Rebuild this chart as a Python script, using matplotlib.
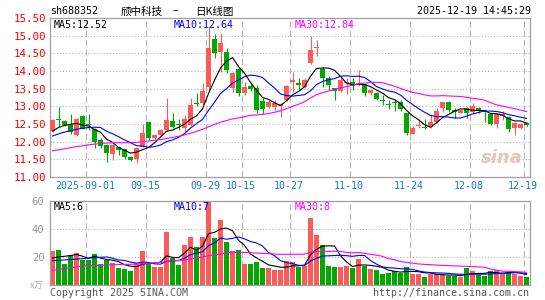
import numpy as np
import matplotlib
matplotlib.use('Agg')
import matplotlib.pyplot as plt
from matplotlib import transforms

# ---------------- data ----------------
opens = [12.30, 12.62, 12.58, 12.50, 12.19, 12.73, 12.50, 12.36, 12.05, 11.91,
         11.65, 11.86, 11.78, 11.58, 11.50, 11.86, 12.55, 12.09, 12.19, 12.33,
         12.58, 12.50, 12.38, 12.47, 13.09, 13.09, 13.56, 14.91, 14.55, 14.53,
         13.51, 14.06, 13.37, 13.58, 13.51, 13.15, 12.99, 12.99, 13.00, 13.18,
         13.70, 13.65, 13.54, 14.24, 14.64, 14.06, 13.81, 13.51, 13.42, 13.66,
         13.70, 13.62, 13.63, 13.39, 13.39, 13.18, 13.06, 13.12, 13.13, 12.80,
         12.23, 12.43, 12.42, 12.42, 12.56, 12.94, 13.13, 12.90, 12.80, 12.95,
         12.83, 12.95, 12.87, 12.77, 12.50, 12.74, 12.71, 12.40, 12.40, 12.54]
highs = [12.65, 12.97, 12.60, 12.78, 12.66, 12.75, 12.78, 12.40, 12.10, 11.93,
         11.93, 11.88, 11.80, 11.60, 11.83, 12.50, 12.57, 12.22, 12.36, 13.25,
         12.80, 12.63, 12.75, 13.23, 13.37, 13.65, 15.25, 15.04, 15.07, 14.64,
         13.98, 14.10, 13.70, 13.66, 13.60, 13.23, 13.17, 13.17, 13.10, 13.60,
         13.98, 13.79, 13.79, 15.00, 14.88, 14.10, 13.86, 13.53, 13.80, 13.80,
         13.80, 14.03, 13.63, 13.48, 13.40, 13.32, 13.18, 13.20, 13.17, 12.82,
         12.43, 12.62, 12.64, 12.75, 12.94, 13.13, 13.16, 12.95, 12.90, 12.98,
         13.09, 12.98, 12.91, 12.80, 12.80, 12.86, 12.72, 12.56, 12.54, 12.56]
lows = [12.28, 12.45, 12.45, 12.22, 12.17, 12.35, 12.33, 11.81, 11.81, 11.43,
        11.48, 11.62, 11.50, 11.46, 11.39, 11.84, 12.05, 12.07, 12.17, 12.30,
        12.40, 12.33, 12.26, 12.45, 13.00, 13.05, 13.41, 14.36, 13.98, 13.93,
        13.41, 13.28, 13.32, 13.42, 12.81, 12.77, 12.94, 12.90, 12.71, 13.15,
        13.41, 13.46, 13.52, 14.20, 14.42, 13.54, 13.45, 13.18, 13.40, 13.35,
        13.45, 13.58, 13.28, 13.33, 13.18, 13.05, 12.92, 12.87, 12.86, 12.19,
        12.21, 12.40, 12.36, 12.38, 12.52, 12.85, 12.83, 12.67, 12.80, 12.67,
        12.81, 12.81, 12.56, 12.47, 12.38, 12.62, 12.26, 12.19, 12.35, 12.45]
closes = [12.60, 12.60, 12.48, 12.27, 12.64, 12.37, 12.46, 11.98, 11.88, 11.67,
          11.91, 11.76, 11.56, 11.48, 11.81, 12.25, 12.09, 12.19, 12.33, 12.61,
          12.42, 12.48, 12.63, 13.04, 13.07, 13.42, 14.66, 14.50, 14.78, 14.03,
          13.93, 13.39, 13.56, 13.49, 12.90, 12.92, 13.11, 13.10, 13.08, 13.58,
          13.75, 13.60, 13.75, 14.59, 14.67, 13.81, 13.60, 13.42, 13.75, 13.70,
          13.58, 13.66, 13.39, 13.46, 13.22, 13.14, 13.03, 13.09, 12.92, 12.25,
          12.38, 12.47, 12.38, 12.56, 12.87, 13.13, 12.90, 12.85, 12.90, 12.80,
          13.00, 12.86, 12.84, 12.50, 12.77, 12.78, 12.35, 12.54, 12.49, 12.47]
volumes = [24.5, 25.2, 15.0, 21.7, 22.9, 17.9, 17.9, 22.4, 15.2, 17.6,
           15.7, 12.4, 11.7, 9.8, 15.7, 24.5, 15.7, 12.6, 13.1, 38.1,
           19.3, 14.5, 28.8, 34.0, 27.4, 34.0, 59.0, 33.6, 46.2, 30.5,
           24.5, 25.2, 15.2, 15.2, 16.7, 12.4, 12.4, 11.0, 11.0, 16.9,
           16.7, 13.1, 13.3, 48.2, 35.8, 28.7, 13.7, 13.1, 13.1, 13.7,
           12.3, 18.7, 13.9, 11.5, 10.7, 8.1, 8.8, 10.0, 8.4, 13.0,
           8.1, 8.1, 5.8, 8.1, 8.1, 6.8, 6.5, 6.1, 6.0, 12.1,
           10.0, 7.1, 6.4, 10.0, 10.5, 8.1, 9.0, 8.1, 6.4, 5.7]

ma5_head = [12.30, 12.40, 12.46, 12.49]
ma10_head = [12.16, 12.22, 12.27, 12.31, 12.35, 12.38, 12.40, 12.41, 12.40]
ma30_head = [11.74, 11.77, 11.80, 11.83, 11.86, 11.88, 11.91, 11.93, 11.95, 11.96,
             11.97, 11.97, 11.97, 11.97, 11.98, 12.00, 12.02, 12.04, 12.06, 12.09,
             12.12, 12.15, 12.19, 12.24, 12.29, 12.35, 12.42, 12.49, 12.55]
vma5_head = [19.3, 20.0, 20.5, 21.0]
vma10_head = [17.4, 17.6, 17.9, 18.2, 18.5, 18.8, 19.2, 19.5, 19.8]
vma30_head = [10.5, 11.0, 11.7, 12.3, 12.9, 13.5, 13.7, 13.9, 14.1, 14.3,
              14.4, 14.6, 14.7, 14.8, 15.0, 15.2, 15.5, 15.8, 16.2, 16.7,
              17.1, 17.5, 18.0, 18.6, 19.3, 20.1, 20.9, 21.6, 22.1]

date_idx = [6, 16, 26, 32, 40, 50, 60, 70, 79]
date_labels = ['2025-09-01', '09-15', '09-29', '10-15', '10-27',
               '11-10', '11-24', '12-08', '12-19']
price_ticks = [11.0, 11.5, 12.0, 12.5, 13.0, 13.5, 14.0, 14.5, 15.0, 15.5]
price_labels = ['11.00', '11.50', '12.00', '12.50', '13.00', '13.50',
                '14.00', '14.50', '15.00', '15.50']
vol_ticks = [20, 40, 60]
vol_labels = ['20', '40', '60']

code = 'sh688352'
title_name = '颀中科技'
title_kind = '日K线图'
stamp = '2025-12-19 14:45:29'
ma_price_labels = ['MA5:12.52', 'MA10:12.64', 'MA30:12.84']
ma_vol_labels = ['MA5:6', 'MA10:7', 'MA30:8']

# ---------------- style ----------------
RED = '#ff5a5a'
GREEN = '#00a800'
MA_COLORS = ['#000000', '#0000ff', '#ff00ff']
GRID = '#b4b4b4'
SPINE = '#a0a0a0'
MONO = 'DejaVu Sans Mono'
CJK = ['Noto Sans CJK SC', 'DejaVu Sans']

W, H = 545, 300
fig = plt.figure(figsize=(W / 100, H / 100), dpi=100)
fig.patch.set_facecolor('white')


def axes_px(l, t, r, b):
    return fig.add_axes([l / W, 1 - b / H, (r - l) / W, (b - t) / H])


def ftext(x, y, s, **kw):
    fig.text(x / W, 1 - y / H, s, **kw)


def moving(values, n, head):
    v = np.asarray(values, float)
    full = np.convolve(v, np.ones(n) / n, mode='valid')
    return np.concatenate([np.asarray(head, float), full])


n = len(closes)
x = np.arange(n)
o = np.array(opens); c = np.array(closes); h = np.array(highs); l = np.array(lows)
up = c >= o
cols = np.where(up, RED, GREEN)

ax = axes_px(50, 18, 530, 177)
axv = axes_px(50, 201, 530, 285)

xlim = (-0.4167, n - 0.4167)
for a in (ax, axv):
    a.set_xlim(*xlim)
    a.set_xticks([])
    for s in a.spines.values():
        s.set_color(SPINE)
        s.set_linewidth(0.9)
    for di in date_idx:
        a.axvline(di - 0.36, color=GRID, lw=0.75, ls=(0, (6, 3)), zorder=0)

# price panel
ax.set_ylim(11.0, 15.5)
for p in price_ticks[1:-1]:
    ax.axhline(p, color=GRID, lw=0.75, ls=(0, (1, 2)), zorder=0)
ax.set_yticks(price_ticks)
ax.set_yticklabels(price_labels, family=MONO, fontsize=7.8, color='red')
ax.tick_params(axis='y', length=0, pad=3)

ax.vlines(x, l, h, colors=cols, lw=0.8, zorder=2)
body_h = np.maximum(np.abs(c - o), 0.03)
ax.bar(x, body_h, bottom=np.minimum(o, c), width=0.83, color=cols, lw=0, zorder=3)

for arr_head, nwin, col in ((ma5_head, 5, MA_COLORS[0]), (ma10_head, 10, MA_COLORS[1]),
                            (ma30_head, 30, MA_COLORS[2])):
    ax.plot(x, moving(closes, nwin, arr_head), color=col, lw=0.8, zorder=4)

ax.text(0.985, 0.06, 'sina', transform=ax.transAxes, ha='right', va='bottom',
        fontsize=13, fontweight='bold', fontstyle='italic', color='#e6c4c4', zorder=1)

# volume panel
axv.set_ylim(0, 60)
for vt in (20, 40):
    axv.axhline(vt, color=GRID, lw=0.75, ls=(0, (1, 2)), zorder=0)
axv.set_yticks(vol_ticks)
axv.set_yticklabels(vol_labels, family=MONO, fontsize=7.6, color='#999999')
axv.tick_params(axis='y', length=0, pad=4)
axv.bar(x, volumes, width=0.83, color=cols, lw=0, zorder=2)
for arr_head, nwin, col in ((vma5_head, 5, MA_COLORS[0]), (vma10_head, 10, MA_COLORS[1]),
                            (vma30_head, 30, MA_COLORS[2])):
    axv.plot(x, moving(volumes, nwin, arr_head), color=col, lw=0.8, zorder=4)

# date labels
tr = transforms.blended_transform_factory(ax.transData, fig.transFigure)
for di, lab in zip(date_idx, date_labels):
    ax.text(di - 0.6, 1 - 186 / H, lab, transform=tr, ha='center', va='center',
            family=MONO, fontsize=7.2, color='#1a78d0', clip_on=False)

# header texts
ftext(50, 11.5, code, ha='left', va='center', family=MONO, fontsize=7.2, color='black')
ftext(121, 11.5, title_name, ha='left', va='center', family=CJK, fontsize=7.6, color='black')
ftext(175.5, 11.5, '–', ha='center', va='center', family=CJK, fontsize=7.6, color='black')
ftext(195, 11.5, title_kind, ha='left', va='center', family=CJK, fontsize=7.6, color='black')
ftext(531, 11.5, stamp, ha='right', va='center', family=MONO, fontsize=7.2, color='black')

for xx, lab, col in zip((54, 174, 295), ma_price_labels, MA_COLORS):
    ftext(xx, 24.8, lab, ha='left', va='center', family=MONO, fontsize=7.2, color=col)
for xx, lab, col in zip((54, 174, 295), ma_vol_labels, MA_COLORS):
    ftext(xx, 206.5, lab, ha='left', va='center', family=MONO, fontsize=7.2, color=col)

ftext(43, 286.5, 'x万', ha='right', va='center', family=CJK, fontsize=6.5, color='#aaaaaa')
ftext(50, 292.5, 'Copyright 2025 SINA.COM', ha='left', va='center', family=MONO,
      fontsize=7.2, color='#555555')
ftext(529, 292.5, 'http://finance.sina.com.cn', ha='right', va='center', family=MONO,
      fontsize=7.2, color='#555555')

fig.savefig('out.png', dpi=100, facecolor='white')
